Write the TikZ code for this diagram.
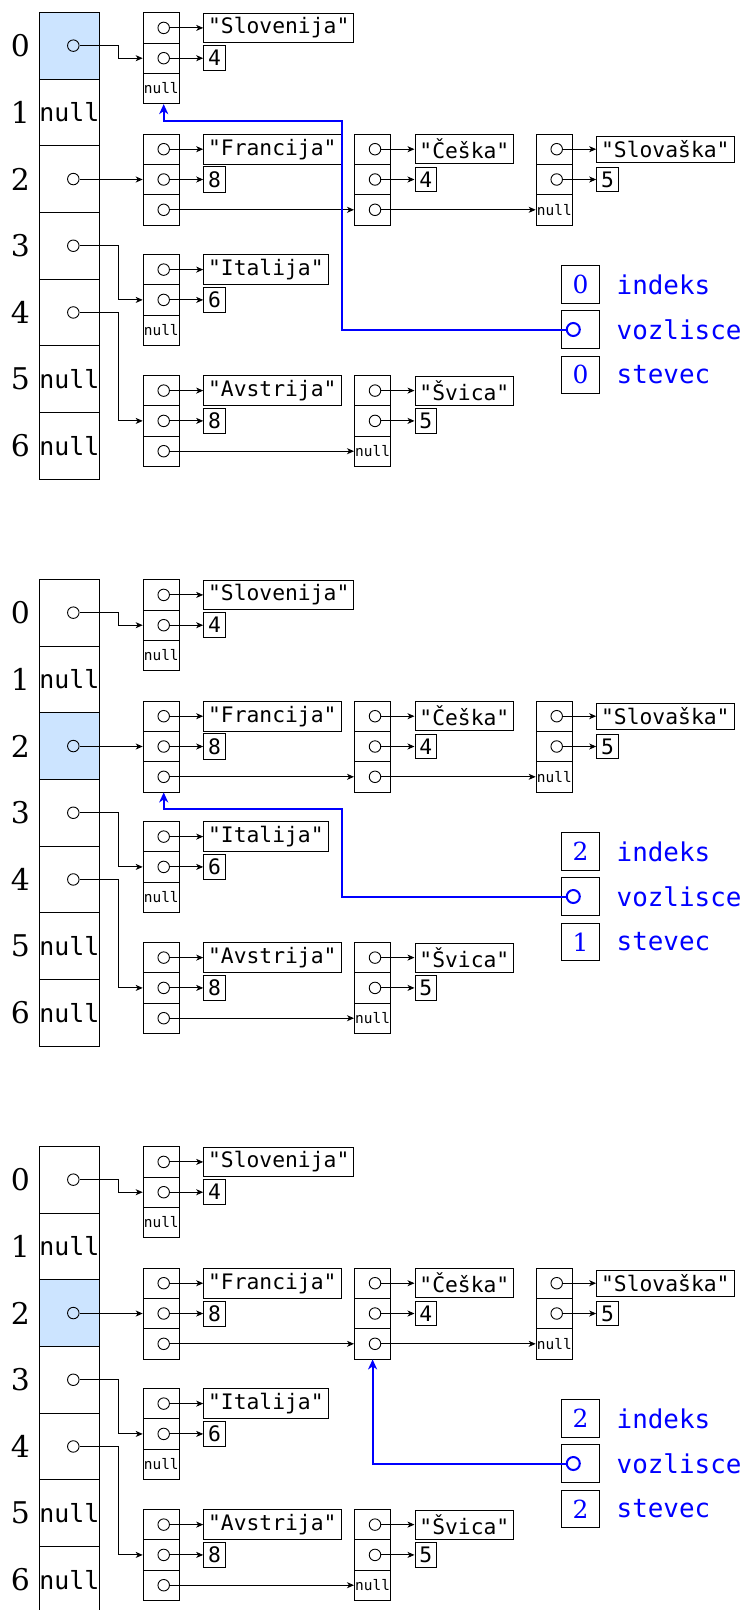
\documentclass[tikz,border=0pt]{standalone}
\usepackage{fontspec}
\usetikzlibrary{arrows.meta}
\setmainfont{DejaVu Serif}
\setmonofont{DejaVu Sans Mono}
\definecolor{izbran}{RGB}{204,228,255}
\begin{document}
\begin{tikzpicture}[x=1bp,y=-1bp,line cap=butt,line join=miter,>={Stealth[length=7bp,width=6bp,inset=2bp]},
		celica/.style={draw,line width=0.9bp,minimum width=60bp,minimum height=66.7bp,inner sep=0pt,font=\ttfamily\fontsize{25}{25}\selectfont},
		polje/.style={draw,line width=0.9bp,minimum width=36.3bp,minimum height=30.3bp,inner sep=0pt,font=\ttfamily\fontsize{14.5}{14.5}\selectfont},
		vrednost/.style={draw,line width=0.9bp,anchor=west,inner sep=4.5bp,font=\ttfamily\fontsize{21.4}{21.4}\selectfont},
		krog/.style={circle,draw,line width=0.9bp,minimum size=11.5bp,inner sep=0pt},
		kazalec/.style={->,line width=0.9bp},
		modro/.style={-{Stealth[length=10bp,width=9bp,inset=3bp]},draw=blue,line width=2bp},
		spr/.style={draw,line width=0.9bp,minimum size=37.8bp,inner sep=0pt,text=blue,font=\fontsize{25}{25}\selectfont},
		ime/.style={anchor=west,inner sep=0pt,text=blue,font=\ttfamily\fontsize{26}{26}\selectfont}]
	\useasboundingbox (0,0) rectangle (750,1610);
	\foreach \p/\h/\indk/\stv in {0/0/0/0,1/2/2/1,2/2/2/2}{
		\begin{scope}[shift={(0,567*\p)}]
			\foreach \k/\t in {0/{},1/null,2/{},3/{},4/{},5/null,6/null}{
				\ifnum\k=\h\relax\def\barva{izbran}\else\def\barva{white}\fi
				\node[celica,fill=\barva] (a\p-\k) at (69.3,{45.65+66.7*\k}) {\t};
				\node[font=\fontsize{30}{30}\selectfont] (i\p-\k) at (20.5,{45.65+66.7*\k}) {\k};
			}
			\foreach \k in {0,2,3,4}
				\node[krog] (d\p-\k) at ([xshift=4bp]a\p-\k.center) {};
			\foreach \lst/\lx/\ly/\str/\num/\zad in {slo/142.7/12.3/Slovenija/4/null,
				fra/142.7/133.6/Francija/8/{},ces/354/133.6/Češka/4/{},svk/535.7/133.6/Slovaška/5/null,
				ita/142.7/254/Italija/6/null,avs/142.7/375/Avstrija/8/{},svi/354/375/Švica/5/null}{
				\foreach \c in {1,2,3}
					\node[polje,anchor=north west] (\lst\p-\c) at (\lx,{\ly+30.3*(\c-1)}) {\ifnum\c=3 \zad\fi};
				\node[krog] (\lst\p-1c) at ([xshift=21bp]\lst\p-1.west) {};
				\node[krog] (\lst\p-2c) at ([xshift=21bp]\lst\p-2.west) {};
				\node[vrednost] (\lst\p-s) at ([xshift=60.5bp]\lst\p-1.west) {"\str"};
				\node[vrednost] (\lst\p-n) at ([xshift=60.5bp]\lst\p-2.west) {\num};
				\draw[kazalec] (\lst\p-1c) -- (\lst\p-s);
				\draw[kazalec] (\lst\p-2c) -- (\lst\p-n);
			}
			\foreach \a/\b in {fra/ces,ces/svk,avs/svi}{
				\node[krog] (\a\p-3c) at ([xshift=21bp]\a\p-3.west) {};
				\draw[kazalec] (\a\p-3c) -- (\b\p-3.west);
			}
			\foreach \k/\lst in {0/slo,2/fra,3/ita,4/avs}
				\draw[kazalec] (d\p-\k) -| ([xshift=-24.7bp]\lst\p-2.west) -- (\lst\p-2.west);
			\node[spr] (ix\p) at (580.5,284.5) {\indk};
			\node[spr] (vz\p) at (580.5,329.7) {};
			\node[spr] (st\p) at (580.5,374.9) {\stv};
			\node[krog,draw=blue,line width=2bp,minimum size=13bp] (vc\p) at (573.3,329.5) {};
			\node[ime] (ixt\p) at (616.5,284.5) {indeks};
			\node[ime] (vzt\p) at (616.5,329.7) {vozlisce};
			\node[ime] (stt\p) at (616.5,374.9) {stevec};
		\end{scope}
	}
	\coordinate (z0) at (342.3,121);
	\coordinate (z1) at (342.3,808.5);
	\draw[modro] (vc0) -| (z0) -| (slo0-3.south -| slo0-2c);
	\draw[modro] (vc1) -| (z1) -| (fra1-3.south -| fra1-3c);
	\draw[modro] (vc2) -| (ces2-3.south);
\end{tikzpicture}
\end{document}
